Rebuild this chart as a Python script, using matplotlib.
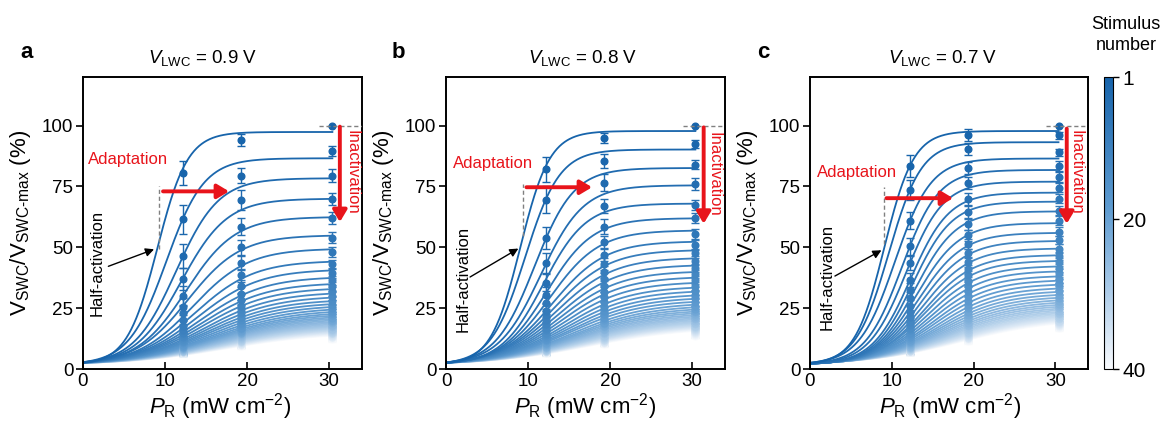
import numpy as np
import matplotlib
matplotlib.use("Agg")
import matplotlib.pyplot as plt
from matplotlib.colors import LinearSegmentedColormap, Normalize
from matplotlib.cm import ScalarMappable

plt.rcParams['font.family'] = ['Liberation Sans', 'DejaVu Sans']
plt.rcParams['mathtext.fontset'] = 'custom'
plt.rcParams['mathtext.rm'] = 'Liberation Sans'
plt.rcParams['mathtext.it'] = 'Liberation Sans:italic'
plt.rcParams['mathtext.bf'] = 'Liberation Sans:bold'

# ---------------- data ----------------
POWERS = [12.2, 19.3, 30.4]          # P_R (mW cm^-2) of measured points
BASELINE = 1.8                       # response at zero power (%)
VOLTAGES = ["0.9", "0.8", "0.7"]     # V_LWC for panels a, b, c
STIM_TICKS = [1, 20, 40]

# panel a (V_LWC = 0.9 V): sigmoid-fit parameters per stimulus 1..40
a_amp = [97.4, 86.6, 78.4, 70.0, 62.5, 55.0, 49.5, 44.5, 41.0, 38.0,
         35.5, 33.5, 31.7, 30.1, 28.7, 27.5, 26.4, 25.4, 24.5, 23.7,
         23.0, 22.3, 21.7, 21.1, 20.5, 20.0, 19.5, 19.0, 18.6, 18.2,
         17.8, 17.4, 17.1, 16.8, 16.5, 16.2, 15.9, 15.6, 15.3, 15.0]
a_half = [9.06, 10.15, 11.33, 11.96, 12.56, 12.78, 13.37, 13.69, 14.0, 14.23,
          14.38, 14.57, 14.8, 14.95, 15.1, 15.24, 15.42, 15.64, 15.82, 15.94,
          16.05, 16.1, 16.2, 16.25, 16.3, 16.4, 16.45, 16.5, 16.6, 16.65,
          16.7, 16.8, 16.85, 16.9, 17.0, 17.05, 17.1, 17.2, 17.25, 17.3]
a_slope = [1.85, 2.3, 2.6, 2.8, 3.0, 3.2, 3.4, 3.6, 3.75, 3.9,
           4.0, 4.1, 4.2, 4.3, 4.4, 4.5, 4.6, 4.7, 4.8, 4.9,
           4.95, 5.0, 5.05, 5.1, 5.15, 5.2, 5.25, 5.3, 5.35, 5.4,
           5.45, 5.5, 5.55, 5.6, 5.65, 5.7, 5.75, 5.8, 5.85, 5.9]
# panel a measured points (mean, error) at the three powers
a_p12 = [80.5, 61.5, 46.5, 37.0, 30.0, 25.5, 23.0, 20.0, 17.5, 16.0,
         15.0, 14.0, 13.0, 12.5, 11.5, 11.0, 10.5, 10.0, 9.5, 9.0,
         8.9, 8.7, 8.5, 8.3, 8.1, 7.9, 7.8, 7.6, 7.5, 7.4,
         7.3, 7.2, 7.1, 7.0, 6.9, 6.8, 6.7, 6.6, 6.5, 6.4]
a_p19 = [94.0, 79.5, 69.5, 58.5, 50.0, 43.5, 38.5, 34.0, 31.0, 28.5,
         26.0, 24.5, 23.0, 21.5, 20.0, 19.0, 18.0, 17.0, 16.5, 15.5,
         15.4, 15.0, 14.6, 14.2, 13.8, 13.4, 13.0, 12.6, 12.2, 11.8,
         11.6, 11.4, 11.1, 10.9, 10.6, 10.4, 10.2, 9.9, 9.7, 9.5]
a_p30 = [100.0, 89.5, 79.5, 70.0, 62.0, 54.0, 48.0, 43.0, 39.5, 36.5,
         34.0, 32.0, 30.0, 28.0, 26.5, 25.0, 24.0, 23.0, 22.0, 21.0,
         20.3, 19.8, 19.2, 18.7, 18.2, 17.7, 17.1, 16.6, 16.1, 15.6,
         15.3, 15.0, 14.6, 14.3, 14.0, 13.6, 13.3, 13.0, 12.6, 12.3]
a_e12 = [5.0, 6.0, 5.0, 4.5, 4.0, 3.5, 3.2, 3.0, 2.8, 2.6,
         2.5, 2.4, 2.3, 2.2, 2.1, 2.0, 2.0, 1.9, 1.9, 1.8,
         1.8, 1.7, 1.7, 1.7, 1.6, 1.6, 1.6, 1.5, 1.5, 1.5,
         1.5, 1.4, 1.4, 1.4, 1.4, 1.3, 1.3, 1.3, 1.3, 1.3]
a_e19 = [2.5, 3.0, 4.0, 3.5, 3.0, 3.0, 2.8, 2.6, 2.5, 2.4,
         2.3, 2.2, 2.1, 2.0, 2.0, 1.9, 1.9, 1.8, 1.8, 1.7,
         1.7, 1.7, 1.6, 1.6, 1.6, 1.5, 1.5, 1.5, 1.5, 1.4,
         1.4, 1.4, 1.4, 1.3, 1.3, 1.3, 1.3, 1.3, 1.2, 1.2]
a_e30 = [0.0, 2.0, 2.5, 2.5, 2.5, 2.2, 2.0, 2.0, 1.9, 1.9,
         1.8, 1.8, 1.7, 1.7, 1.7, 1.6, 1.6, 1.6, 1.5, 1.5,
         1.5, 1.5, 1.4, 1.4, 1.4, 1.4, 1.3, 1.3, 1.3, 1.3,
         1.3, 1.2, 1.2, 1.2, 1.2, 1.2, 1.1, 1.1, 1.1, 1.1]

# panel b (V_LWC = 0.8 V)
b_amp = [97.8, 90.2, 82.6, 75.5, 68.0, 62.0, 57.0, 52.5, 49.0, 45.8,
         42.9, 40.3, 38.0, 35.9, 34.0, 32.4, 30.9, 29.6, 28.4, 27.3,
         26.3, 25.4, 24.6, 23.9, 23.2, 22.6, 22.0, 21.5, 21.0, 20.5,
         20.1, 19.7, 19.3, 19.0, 18.7, 18.4, 18.1, 17.8, 17.5, 17.2]
b_half = [9.04, 9.65, 10.79, 11.54, 11.86, 12.3, 12.67, 13.02, 13.26, 13.48,
          13.68, 13.87, 14.05, 14.24, 14.45, 14.64, 14.8, 14.97, 15.1, 15.35,
          15.5, 15.6, 15.7, 15.8, 15.9, 16.0, 16.1, 16.2, 16.3, 16.4,
          16.5, 16.6, 16.7, 16.8, 16.9, 17.0, 17.1, 17.2, 17.3, 17.4]
b_slope = [1.8, 2.1, 2.4, 2.6, 2.6, 2.8, 3.0, 3.2, 3.35, 3.5,
           3.6, 3.7, 3.8, 3.9, 4.0, 4.1, 4.2, 4.3, 4.4, 4.5,
           4.6, 4.67, 4.74, 4.81, 4.88, 4.95, 5.02, 5.09, 5.16, 5.23,
           5.3, 5.37, 5.44, 5.51, 5.58, 5.65, 5.72, 5.79, 5.86, 5.93]
b_p12 = [82.0, 69.5, 54.0, 43.5, 35.5, 30.5, 27.0, 24.0, 22.0, 20.0,
         18.5, 17.0, 16.0, 15.0, 14.0, 13.0, 12.5, 12.0, 11.5, 10.5,
         10.2, 9.9, 9.6, 9.2, 8.9, 8.7, 8.5, 8.3, 8.0, 7.8,
         7.7, 7.6, 7.4, 7.3, 7.2, 7.1, 7.0, 6.9, 6.7, 6.6]
b_p19 = [95.0, 85.5, 76.5, 67.0, 58.5, 52.0, 47.0, 43.0, 40.0, 37.0,
         34.0, 31.5, 29.5, 27.5, 25.5, 24.0, 22.5, 21.0, 20.0, 19.0,
         18.4, 17.8, 17.1, 16.5, 15.9, 15.3, 14.8, 14.2, 13.6, 13.0,
         12.7, 12.4, 12.1, 11.8, 11.5, 11.2, 11.0, 10.7, 10.5, 10.2]
b_p30 = [100.0, 92.5, 84.0, 76.0, 67.5, 62.0, 55.5, 51.0, 47.5, 44.5,
         41.5, 39.0, 36.5, 34.0, 32.0, 30.5, 29.0, 27.5, 26.0, 24.5,
         24.0, 23.3, 22.5, 21.8, 21.1, 20.4, 19.7, 19.0, 18.3, 17.6,
         17.2, 16.8, 16.4, 16.0, 15.6, 15.2, 14.8, 14.4, 14.0, 13.7]
b_e12 = [5.0, 5.5, 4.5, 4.0, 3.5, 3.2, 3.0, 2.8, 2.6, 2.5,
         2.4, 2.3, 2.2, 2.1, 2.0, 2.0, 1.9, 1.9, 1.8, 1.8,
         1.7, 1.7, 1.7, 1.6, 1.6, 1.6, 1.5, 1.5, 1.5, 1.5,
         1.4, 1.4, 1.4, 1.4, 1.3, 1.3, 1.3, 1.3, 1.3, 1.3]
b_e19 = [2.0, 3.0, 3.5, 3.0, 3.0, 2.8, 2.6, 2.5, 2.4, 2.3,
         2.2, 2.1, 2.0, 2.0, 1.9, 1.9, 1.8, 1.8, 1.7, 1.7,
         1.7, 1.6, 1.6, 1.6, 1.5, 1.5, 1.5, 1.5, 1.4, 1.4,
         1.4, 1.4, 1.3, 1.3, 1.3, 1.3, 1.3, 1.2, 1.2, 1.2]
b_e30 = [0.0, 1.5, 2.0, 2.5, 2.0, 2.0, 1.9, 1.9, 1.8, 1.8,
         1.7, 1.7, 1.7, 1.6, 1.6, 1.6, 1.5, 1.5, 1.5, 1.5,
         1.4, 1.4, 1.4, 1.4, 1.3, 1.3, 1.3, 1.3, 1.3, 1.2,
         1.2, 1.2, 1.2, 1.2, 1.1, 1.1, 1.1, 1.1, 1.1, 1.1]

# panel c (V_LWC = 0.7 V)
c_amp = [97.8, 93.2, 86.5, 81.8, 77.0, 72.5, 68.8, 64.8, 60.0, 56.0,
         52.7, 49.6, 46.9, 44.6, 42.4, 40.4, 38.4, 36.7, 35.1, 33.6,
         32.3, 31.1, 30.0, 29.0, 28.1, 27.3, 26.6, 25.9, 25.3, 24.7,
         24.2, 23.7, 23.2, 22.8, 22.4, 22.0, 21.7, 21.4, 21.1, 20.8]
c_half = [9.08, 9.62, 10.39, 11.23, 11.73, 12.31, 12.6, 12.92, 13.12, 13.33,
          13.56, 13.77, 14.0, 14.12, 14.34, 14.57, 14.75, 14.99, 15.17, 15.39,
          15.6, 15.75, 15.9, 16.05, 16.2, 16.35, 16.5, 16.65, 16.8, 16.95,
          17.1, 17.25, 17.4, 17.55, 17.7, 17.85, 18.0, 18.15, 18.3, 18.45]
c_slope = [1.8, 2.0, 2.2, 2.25, 2.3, 2.35, 2.4, 2.5, 2.6, 2.7,
           2.8, 2.9, 3.0, 3.1, 3.2, 3.3, 3.4, 3.5, 3.6, 3.7,
           3.8, 3.9, 4.0, 4.1, 4.2, 4.3, 4.4, 4.5, 4.6, 4.7,
           4.8, 4.9, 5.0, 5.1, 5.2, 5.3, 5.4, 5.5, 5.6, 5.7]
c_p12 = [83.5, 73.5, 61.0, 50.5, 43.5, 36.5, 32.5, 29.0, 26.0, 23.5,
         21.5, 19.5, 18.0, 17.0, 16.0, 15.0, 14.0, 13.0, 12.5, 11.5,
         11.1, 10.6, 10.2, 9.8, 9.4, 9.2, 9.0, 8.7, 8.5, 8.3,
         8.1, 7.9, 7.8, 7.6, 7.4, 7.3, 7.2, 7.1, 7.0, 6.9]
c_p19 = [96.0, 90.5, 82.5, 76.5, 70.0, 64.5, 59.5, 55.0, 51.5, 47.5,
         44.0, 41.0, 38.5, 36.0, 34.0, 32.0, 30.0, 28.0, 26.5, 25.0,
         23.5, 22.3, 21.1, 20.0, 18.9, 18.2, 17.5, 16.8, 16.1, 15.4,
         15.0, 14.5, 14.1, 13.6, 13.2, 12.9, 12.6, 12.2, 11.9, 11.6]
c_p30 = [100.0, 96.0, 89.0, 83.5, 79.0, 74.5, 70.0, 65.0, 61.0, 56.5,
         53.0, 49.5, 46.5, 44.0, 41.5, 39.5, 37.0, 35.5, 34.0, 32.0,
         30.6, 29.3, 28.1, 26.9, 25.8, 24.9, 24.0, 23.2, 22.4, 21.6,
         21.0, 20.5, 19.9, 19.3, 18.8, 18.4, 17.9, 17.5, 17.1, 16.7]
c_e12 = [4.5, 4.0, 3.5, 3.5, 3.0, 3.0, 2.8, 2.6, 2.5, 2.4,
         2.3, 2.2, 2.1, 2.0, 2.0, 1.9, 1.9, 1.8, 1.8, 1.7,
         1.7, 1.7, 1.6, 1.6, 1.6, 1.5, 1.5, 1.5, 1.5, 1.4,
         1.4, 1.4, 1.4, 1.3, 1.3, 1.3, 1.3, 1.3, 1.2, 1.2]
c_e19 = [2.5, 2.5, 2.5, 2.5, 2.5, 2.4, 2.3, 2.2, 2.1, 2.0,
         2.0, 1.9, 1.9, 1.8, 1.8, 1.7, 1.7, 1.7, 1.6, 1.6,
         1.6, 1.5, 1.5, 1.5, 1.5, 1.4, 1.4, 1.4, 1.4, 1.3,
         1.3, 1.3, 1.3, 1.3, 1.2, 1.2, 1.2, 1.2, 1.2, 1.2]
c_e30 = [0.0, 1.5, 1.5, 2.0, 2.0, 1.9, 1.9, 1.8, 1.8, 1.7,
         1.7, 1.7, 1.6, 1.6, 1.6, 1.5, 1.5, 1.5, 1.5, 1.4,
         1.4, 1.4, 1.4, 1.3, 1.3, 1.3, 1.3, 1.3, 1.2, 1.2,
         1.2, 1.2, 1.2, 1.2, 1.1, 1.1, 1.1, 1.1, 1.1, 1.1]

PANELS = [
    dict(amp=a_amp, half=a_half, slope=a_slope, pts=(a_p12, a_p19, a_p30), err=(a_e12, a_e19, a_e30)),
    dict(amp=b_amp, half=b_half, slope=b_slope, pts=(b_p12, b_p19, b_p30), err=(b_e12, b_e19, b_e30)),
    dict(amp=c_amp, half=c_half, slope=c_slope, pts=(c_p12, c_p19, c_p30), err=(c_e12, c_e19, c_e30)),
]
for p in PANELS:
    for arr in [p['amp'], p['half'], p['slope'], *p['pts'], *p['err']]:
        assert len(arr) == 40, len(arr)

# ---------------- layout (pixels) ----------------
W, H = 1162, 423
AX_PX = [(83, 77, 362, 369), (446, 77, 725, 369), (810, 77, 1088, 369)]
LETTERS = [("a", 20), ("b", 392), ("c", 757)]
TITLE_X = [203, 583, 943]
XLABEL_X = [0.49, 0.50, 0.505]
ANN = [
    dict(adapt=(0.6, 86.0), harr=(9.75, 17.8, 73.0), varr=(31.3, 99.6, 60.4), inact=(32.8, 80.9),
         hline=28.8, vdash=(9.27, 49.5, 75.4), barr=((3.09, 42.2), (8.66, 49.2)), half=(1.67, 43.4)),
    dict(adapt=(0.85, 84.4), harr=(9.8, 17.8, 74.7), varr=(31.4, 99.3, 59.7), inact=(32.6, 80.0),
         hline=28.9, vdash=(9.35, 54.5, 76.0), barr=((2.93, 37.8), (8.82, 49.5)), half=(2.1, 37.2)),
    dict(adapt=(0.85, 80.7), harr=(9.35, 17.5, 70.2), varr=(31.4, 98.8, 59.7), inact=(32.5, 81.0),
         hline=28.9, vdash=(9.0, 51.4, 74.9), barr=((3.05, 38.2), (8.74, 48.8)), half=(2.1, 37.8)),
]

RED = '#e8141b'
cmap = LinearSegmentedColormap.from_list(
    'stim', [(0.0, '#1764ab'), (0.45, '#5e9bd0'), (0.7, '#a3c6e6'), (1.0, '#f8fafd')])
norm = Normalize(1, 40)

fig = plt.figure(figsize=(W / 100, H / 100), dpi=100)


def px_axes(l, t, r, b):
    return fig.add_axes([l / W, 1 - b / H, (r - l) / W, (b - t) / H])


xgrid = np.linspace(0, 30.5, 400)
for i, (panel, ann) in enumerate(zip(PANELS, ANN)):
    ax = px_axes(*AX_PX[i])
    n_stim = len(panel['amp'])
    for k in reversed(range(n_stim)):
        col = cmap(norm(k + 1))
        A, xh, s = panel['amp'][k], panel['half'][k], panel['slope'][k]
        y = BASELINE + (A - BASELINE) / (1.0 + np.exp((xh - xgrid) / s))
        z = 2 + (n_stim - k) * 0.01
        ax.plot(xgrid, y, color=col, lw=1.3, zorder=z, solid_capstyle='butt')
        ys = [panel['pts'][j][k] for j in range(3)]
        es = [panel['err'][j][k] for j in range(3)]
        ax.errorbar(POWERS, ys, yerr=es, fmt='o', ms=4.8, color=col, ecolor=col,
                    mec=col, elinewidth=1.0, capsize=3, capthick=1.0, zorder=z + 0.005)

    ax.set_xlim(0, 34)
    ax.set_ylim(0, 120)
    ax.set_xticks([0, 10, 20, 30])
    ax.set_yticks([0, 25, 50, 75, 100])
    for s_ in ax.spines.values():
        s_.set_linewidth(1.4)
    ax.tick_params(axis='y', direction='out', length=5, width=1.2, labelsize=13.5, pad=2)
    ax.tick_params(axis='x', direction='in', length=5, width=1.2, labelsize=13.5, pad=3)
    ax.set_xlabel(r'$P_{\mathrm{R}}$ (mW cm$^{-2}$)', fontsize=16)
    ax.xaxis.set_label_coords(XLABEL_X[i], -0.075)
    ax.set_ylabel(r'$\mathrm{V}_{\mathrm{SWC}}/\mathrm{V}_{\mathrm{SWC}\text{-}\mathrm{max}}$ (%)', fontsize=16)
    ax.yaxis.set_label_coords(-0.18, 0.5)

    # annotations
    ax.text(ann['adapt'][0], ann['adapt'][1], 'Adaptation', color=RED, fontsize=12,
            ha='left', va='center', zorder=10)
    hx0, hx1, hy = ann['harr']
    ax.annotate('', xy=(hx1, hy), xytext=(hx0, hy), zorder=10,
                arrowprops=dict(arrowstyle='-|>,head_length=0.5,head_width=0.3', color=RED,
                                lw=2.8, mutation_scale=14, shrinkA=0, shrinkB=0))
    vx, vy0, vy1 = ann['varr']
    ax.annotate('', xy=(vx, vy1), xytext=(vx, vy0), zorder=10,
                arrowprops=dict(arrowstyle='-|>,head_length=0.5,head_width=0.3', color=RED,
                                lw=2.8, mutation_scale=14, shrinkA=0, shrinkB=0))
    ax.text(ann['inact'][0], ann['inact'][1], 'Inactivation', color=RED, fontsize=12,
            rotation=-90, ha='center', va='center', zorder=10)
    ax.hlines(100, ann['hline'], 34, colors='#808080', linestyles=(0, (3, 2)), lw=1.0, zorder=9)
    vdx, vd0, vd1 = ann['vdash']
    ax.vlines(vdx, vd0, vd1, colors='#808080', linestyles=(0, (3, 2)), lw=1.0, zorder=9)
    (bx0, by0), (bx1, by1) = ann['barr']
    ax.annotate('', xy=(bx1, by1), xytext=(bx0, by0), zorder=10,
                arrowprops=dict(arrowstyle='-|>,head_length=0.5,head_width=0.25', color='black',
                                lw=1.0, mutation_scale=10, shrinkA=0, shrinkB=0))
    ax.text(ann['half'][0], ann['half'][1], 'Half-activation', color='black', fontsize=12,
            rotation=90, ha='center', va='center', zorder=10)

    # panel letter and title
    fig.text(LETTERS[i][1] / W, 1 - 53 / H, LETTERS[i][0], fontsize=16, fontweight='bold',
             ha='left', va='center')
    fig.text(TITLE_X[i] / W, 1 - 58 / H, r'$V_{\mathrm{LWC}}$ = ' + VOLTAGES[i] + ' V',
             fontsize=13.5, ha='center', va='center')

# colorbar
cax = px_axes(1104, 77, 1113, 369)
cb = fig.colorbar(ScalarMappable(norm=norm, cmap=cmap), cax=cax)
cax.invert_yaxis()
cb.set_ticks(STIM_TICKS)
cb.outline.set_linewidth(0.8)
cax.tick_params(labelsize=15, length=4, width=1.0, pad=3)
fig.text(1126 / W, 1 - 35 / H, 'Stimulus\nnumber', fontsize=13, ha='center', va='center',
         linespacing=1.3)

fig.savefig('out.png', dpi=100)
